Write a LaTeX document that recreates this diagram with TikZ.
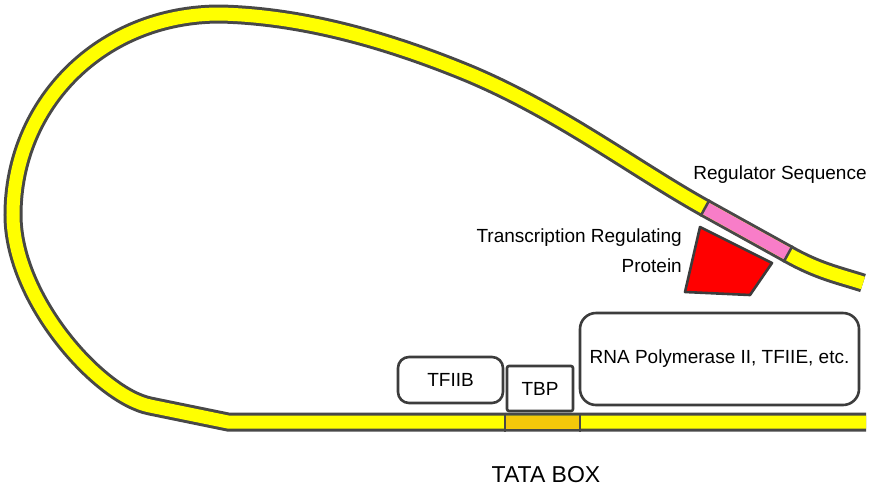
\documentclass[tikz,border=0pt]{standalone}
\usepackage{fontspec}
\setmainfont{Liberation Sans}
\usetikzlibrary{calc}

\definecolor{dnaline}{HTML}{484848}
\definecolor{dnayellow}{HTML}{FFFF00}
\definecolor{regpink}{HTML}{F87DC8}
\definecolor{tatagold}{HTML}{F5C80A}
\definecolor{protred}{HTML}{FF0000}
\definecolor{boxline}{HTML}{3C3C3C}

\begin{document}
\begin{tikzpicture}[x=1pt, y=-1pt,
    strand/.style={draw=dnaline, line width=3pt, double=dnayellow, double distance=13pt},
    factorbox/.style={draw=boxline, line width=2.6pt, fill=white, inner sep=0pt, font=\fontsize{19}{22}\selectfont},
    tagtext/.style={inner sep=0pt, font=\fontsize{19}{30}\selectfont},
    cutline/.style={dnaline, line width=2.5pt}]
    \useasboundingbox (0,0) rectangle (875,488);

    % Marked sequences
    \coordinate (rs1) at (705,208);
    \coordinate (rs2) at (788,254);
    \coordinate (tata1) at (505,422);
    \coordinate (tata2) at (580,422);

    % DNA strand
    \path[strand] (866,422) -- (228,422) -- (150,406)
        .. controls (100,396) and (13,300) .. (13,215)
        .. controls (13,105) and (100,14) .. (220,14)
        .. controls (310,16) and (400,45) .. (470,74)
        .. controls (560,112) and (635,169) .. (rs1)
        -- (rs2)
        .. controls (818,271) and (838,275) .. (863,283);

    \draw[regpink, line width=13pt] (rs1) -- (rs2);
    \draw[tatagold, line width=13pt] (tata1) -- (tata2);
    \draw[cutline] ($(rs1)!9.5pt!90:(rs2)$) -- ($(rs1)!9.5pt!-90:(rs2)$);
    \draw[cutline] ($(rs2)!9.5pt!90:(rs1)$) -- ($(rs2)!9.5pt!-90:(rs1)$);
    \draw[cutline] ($(tata1)!9.5pt!90:(tata2)$) -- ($(tata1)!9.5pt!-90:(tata2)$);
    \draw[cutline] ($(tata2)!9.5pt!90:(tata1)$) -- ($(tata2)!9.5pt!-90:(tata1)$);

    % Protein
    \draw[draw=boxline, line width=2.6pt, fill=protred, line join=round] (700,227) -- (772,263) -- (750,295) -- (685,292) -- cycle;

    % Factors
    \node[factorbox, rounded corners=11pt, minimum width=105pt, minimum height=46pt] (tfiib) at (450.5,380) {TFIIB};
    \node[factorbox, rounded corners=2pt, minimum width=66pt, minimum height=45pt] (tbp) at (540,388.5) {TBP};
    \node[factorbox, rounded corners=16pt, minimum width=279pt, minimum height=92pt] (rnapol) at (719.5,359) {RNA Polymerase II, TFIIE, etc.};

    % Labels
    \node[tagtext] (regseq) at (780,175) {Regulator Sequence};
    \node[tagtext, align=right, anchor=east] (regprot) at (682,251) {Transcription Regulating\\Protein};
    \node[tagtext, font=\fontsize{23}{28}\selectfont] (tatabox) at (546,475) {TATA BOX};
\end{tikzpicture}
\end{document}
